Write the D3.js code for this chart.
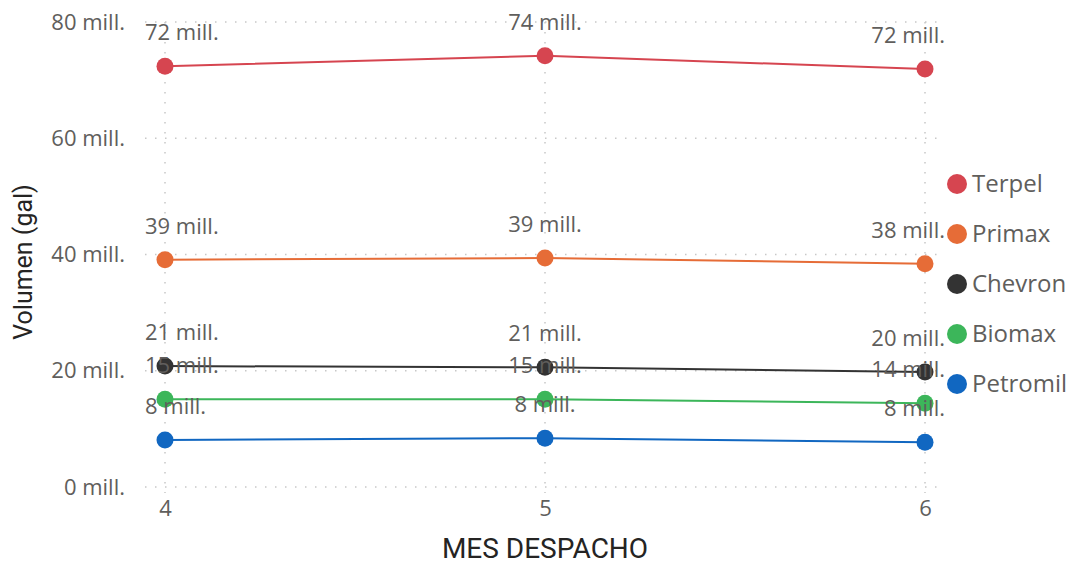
<!DOCTYPE html>
<html>
<head>
<meta charset="utf-8">
<script src="https://cdn.jsdelivr.net/npm/d3@7"></script>
<style>
  body { margin: 0; background: #fff; }
  text { font-family: "Open Sans", "Noto Sans", sans-serif; }
</style>
</head>
<body>
<script>
// data (millions of gallons)
var months = [4, 5, 6]
var seriesNames = ["Terpel", "Primax", "Chevron", "Biomax", "Petromil"]
var terpel = [72.4, 74.2, 71.9]
var primax = [39.1, 39.4, 38.4]
var chevron = [20.8, 20.6, 19.8]
var biomax = [15.1, 15.1, 14.4]
var petromil = [8.1, 8.4, 7.7]
var yTicks = [0, 20, 40, 60, 80]
var colors = ["#D64550", "#E66C37", "#333333", "#3CB65A", "#1167C1"]

var allValues = [terpel, primax, chevron, biomax, petromil]
var series = seriesNames.map(function (n, i) {
    return { name: n, values: allValues[i], color: colors[i] }
})

var width = 1088, height = 570
var plot = { left: 145, right: 945, top: 22, bottom: 487 }

var svg = d3.select("body").append("svg")
    .attr("width", width)
    .attr("height", height)

var x = d3.scalePoint()
    .domain(months)
    .range([plot.left + 20, plot.right - 20])

var y = d3.scaleLinear()
    .domain([0, 80])
    .range([plot.bottom, plot.top])

// grid
var grid = svg.append("g")
grid.selectAll("line.h")
    .data(yTicks)
    .enter()
    .append("line")
    .attr("x1", plot.left).attr("x2", plot.right)
    .attr("y1", function (d) { return y(d) })
    .attr("y2", function (d) { return y(d) })
    .attr("stroke", "#c8c8c8")
    .attr("stroke-width", 1.5)
    .attr("stroke-dasharray", "1.5,8.5")
grid.selectAll("line.v")
    .data(months)
    .enter()
    .append("line")
    .attr("x1", function (d) { return x(d) })
    .attr("x2", function (d) { return x(d) })
    .attr("y1", plot.top).attr("y2", plot.bottom + 6)
    .attr("stroke", "#c8c8c8")
    .attr("stroke-width", 1.5)
    .attr("stroke-dasharray", "1.5,8.5")

// axes
var yAxis = svg.append("g")
    .attr("transform", "translate(125,0)")
    .call(d3.axisLeft(y).tickValues(yTicks).tickSize(0).tickFormat(function (d) { return d + " mill." }))
yAxis.select(".domain").remove()
yAxis.selectAll("text")
    .attr("x", 0)
    .attr("fill", "#605E5C")
    .style("font-size", "22px")
    .style("font-family", "'Open Sans', sans-serif")

var xAxis = svg.append("g")
    .attr("transform", "translate(0," + (plot.bottom + 10) + ")")
    .call(d3.axisBottom(x).tickSize(0))
xAxis.select(".domain").remove()
xAxis.selectAll("text")
    .attr("y", 3)
    .attr("fill", "#605E5C")
    .style("font-size", "22px")
    .style("font-family", "'Open Sans', sans-serif")

svg.append("text")
    .attr("x", 545)
    .attr("y", 558)
    .attr("text-anchor", "middle")
    .attr("fill", "#252423")
    .style("font-size", "28px")
    .style("font-family", "Roboto, sans-serif")
    .text("MES DESPACHO")

svg.append("text")
    .attr("transform", "translate(32,262) rotate(-90)")
    .attr("text-anchor", "middle")
    .attr("fill", "#252423")
    .style("font-size", "25px")
    .style("font-family", "Roboto, sans-serif")
    .text("Volumen (gal)")

// lines + markers
var line = d3.line()
    .x(function (d, i) { return x(months[i]) })
    .y(function (d) { return y(d) })

var groups = svg.selectAll("g.series")
    .data(series)
    .enter()
    .append("g")
    .attr("class", "series")

groups.append("path")
    .attr("d", function (s) { return line(s.values) })
    .attr("fill", "none")
    .attr("stroke", function (s) { return s.color })
    .attr("stroke-width", 2)

groups.selectAll("circle")
    .data(function (s) { return s.values.map(function (v, i) { return { v: v, m: months[i], c: s.color } }) })
    .enter()
    .append("circle")
    .attr("cx", function (d) { return x(d.m) })
    .attr("cy", function (d) { return y(d.v) })
    .attr("r", 8.5)
    .attr("fill", function (d) { return d.c })

// data labels, clamped inside the plot area
var labels = svg.append("g")
series.forEach(function (s) {
    s.values.forEach(function (v, i) {
        var t = labels.append("text")
            .attr("y", y(v) - 26)
            .attr("fill", "#605E5C")
            .style("font-size", "22px")
            .text(Math.round(v) + " mill.")
        var w = t.node().getComputedTextLength()
        var cx = x(months[i])
        var lx = Math.max(plot.left, Math.min(plot.right - w, cx - w / 2))
        t.attr("x", lx)
    })
})

// legend
var legend = svg.selectAll("g.legend")
    .data(series)
    .enter()
    .append("g")
    .attr("class", "legend")
    .attr("transform", function (s, i) { return "translate(957," + (184 + i * 50) + ")" })
legend.append("circle")
    .attr("r", 10)
    .attr("fill", function (s) { return s.color })
legend.append("text")
    .attr("x", 15)
    .attr("dy", "0.35em")
    .attr("fill", "#605E5C")
    .style("font-size", "24px")
    .text(function (s) { return s.name })
</script>
</body>
</html>
